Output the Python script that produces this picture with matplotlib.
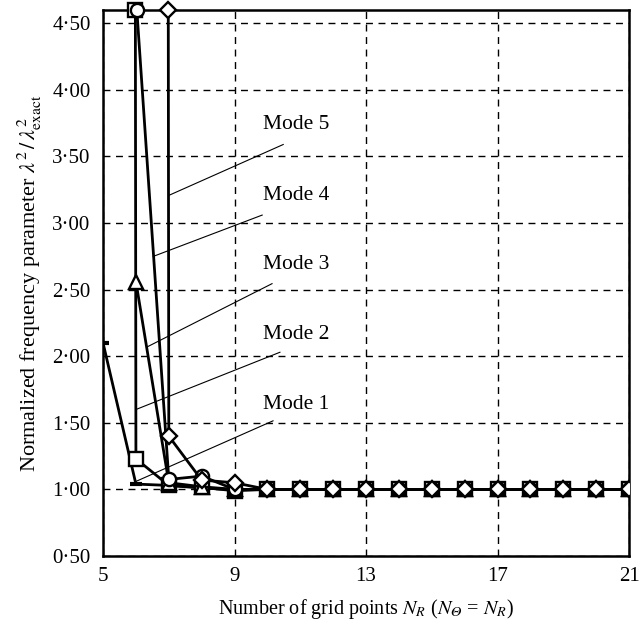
import numpy as np
import matplotlib
matplotlib.use("Agg")
import matplotlib.pyplot as plt

plt.rcParams['font.family'] = ['Liberation Serif', 'DejaVu Serif']
plt.rcParams['mathtext.fontset'] = 'stix'

# Grid size N_R and normalized frequency parameter for the first five modes.
# Very large numbers are off-scale results at coarse grids; NaN = not computed.
grid_points = np.arange(5, 22)
tail = [1.00] * 12
mode1 = [2.10, 1.04, 1.03, 1.01, 1.00] + tail
mode2 = [200.0, 1.23, 1.03, 1.015, 0.99] + tail
mode3 = [np.nan, 2.56, 1.05, 1.02, 1.00] + tail
mode4 = [np.nan, 4.70, 1.075, 1.10, 1.00] + tail
mode5 = [np.nan, 200.0, 1.40, 1.07, 1.05] + tail

y_ticks = [0.5, 1.0, 1.5, 2.0, 2.5, 3.0, 3.5, 4.0, 4.5]
x_ticks = [5, 9, 13, 17, 21]
y_max = 4.6

series = [
    ("Mode 1", mode1, dict(marker='_', ms=8, mew=3.0)),
    ("Mode 2", mode2, dict(marker='s', ms=9.5, mew=1.7)),
    ("Mode 3", mode3, dict(marker='^', ms=9.5, mew=1.7)),
    ("Mode 4", mode4, dict(marker='o', ms=9.5, mew=1.7)),
    ("Mode 5", mode5, dict(marker='D', ms=8.0, mew=1.7)),
]

fig = plt.figure(figsize=(6.4, 6.25), dpi=100)
ax = fig.add_axes([0.161, 0.1104, 0.822, 0.8736])

for name, vals, mk in series:
    y = np.asarray(vals, dtype=float)
    ax.plot(grid_points, y, color='black', lw=2.0, mfc='white', mec='black',
            zorder=3, **mk)
    # off-scale points: mark where the curve leaves the top of the frame
    for i in range(len(y) - 1):
        a, b = y[i], y[i + 1]
        if np.isfinite(a) and np.isfinite(b) and a > y_max >= b:
            xc = grid_points[i] + (a - y_max) / (a - b)
            ax.plot([xc], [y_max], color='black', ls='none', mfc='white',
                    mec='black', zorder=4, clip_on=False, **mk)

# mode labels with leader lines
labels = [
    ("Mode 5", (9.87, 3.74), (10.48, 3.59), (7.02, 3.21)),
    ("Mode 4", (9.87, 3.21), (9.84, 3.06), (6.53, 2.75)),
    ("Mode 3", (9.87, 2.69), (10.14, 2.545), (6.34, 2.07)),
    ("Mode 2", (9.87, 2.16), (10.38, 2.03), (6.0, 1.60)),
    ("Mode 1", (9.87, 1.635), (10.17, 1.515), (6.0, 1.06)),
]
for text, tpos, p0, p1 in labels:
    ax.text(tpos[0], tpos[1], text, fontsize=15.5, ha='left', va='center')
    ax.plot([p0[0], p1[0]], [p0[1], p1[1]], color='black', lw=0.8, zorder=2)

ax.set_xlim(5, 21)
ax.set_ylim(0.5, y_max)
ax.set_xticks(x_ticks)
ax.set_yticks(y_ticks)
ax.set_yticklabels([f"{v:.2f}".replace('.', '\u00b7') for v in y_ticks])
ax.tick_params(length=0, labelsize=15)
ax.tick_params(axis='y', pad=9)
ax.tick_params(axis='x', pad=8)
ax.grid(True, color='black', lw=1.0, ls=(0, (5, 4)))
ax.set_axisbelow(True)
for s in ax.spines.values():
    s.set_linewidth(1.8)

ax.set_xlabel('Number of grid points $N_R$ ($N_{\U0001D6E9}$ = $N_R$)',
              fontsize=14.5, labelpad=8)
ax.set_ylabel(r'Normalized frequency parameter $\lambda^2\,/\,\lambda^2_{\rm exact}$',
              fontsize=16, labelpad=6)

fig.savefig('out.png', dpi=100)
